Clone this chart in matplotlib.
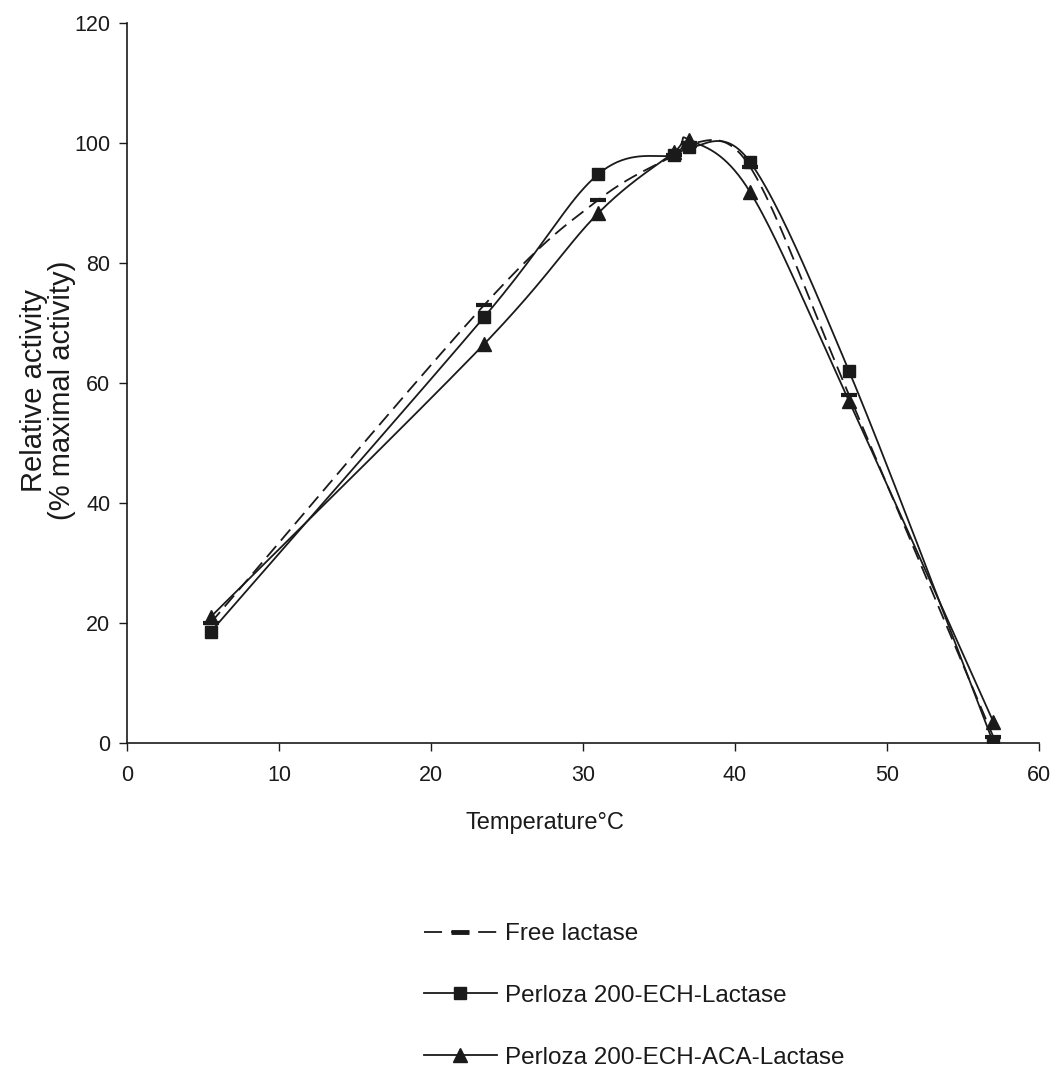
import numpy as np
import matplotlib
matplotlib.use("Agg")
import matplotlib.pyplot as plt
from matplotlib.lines import Line2D

plt.rcParams['font.family'] = ['Liberation Sans', 'DejaVu Sans']

# ---- data ----
temperature = [5.5, 23.5, 31, 36, 37, 41, 47.5, 57]
free_lactase = [20, 73, 90.5, 98, 100, 96, 58, 1]
ech_lactase = [18.5, 71, 94.8, 98, 99.3, 96.8, 62, 0]
aca_lactase = [21, 66.5, 88.3, 98.5, 100.5, 91.8, 57, 3.5]

labels = ["Free lactase", "Perloza 200-ECH-Lactase", "Perloza 200-ECH-ACA-Lactase"]
x_ticks = [0, 10, 20, 30, 40, 50, 60]
y_ticks = [0, 20, 40, 60, 80, 100, 120]


def smooth(xs, ys, n=40):
    """Excel-like smoothed line (Catmull-Rom Bezier through the points)."""
    p = np.column_stack([xs, ys]).astype(float)
    out = []
    m = len(p)
    t = np.linspace(0, 1, n)[:, None]
    for i in range(m - 1):
        p0 = p[i - 1] if i > 0 else p[i]
        p1 = p[i]
        p2 = p[i + 1]
        p3 = p[i + 2] if i + 2 < m else p[i + 1]
        c1 = p1 + (p2 - p0) / 6.0
        c2 = p2 - (p3 - p1) / 6.0
        seg = ((1 - t) ** 3) * p1 + 3 * ((1 - t) ** 2) * t * c1 + 3 * (1 - t) * t ** 2 * c2 + t ** 3 * p2
        out.append(seg if i == 0 else seg[1:])
    out = np.vstack(out)
    return out[:, 0], out[:, 1]


W, H = 1057, 1068
fig = plt.figure(figsize=(W / 100, H / 100), dpi=100)
ax = fig.add_axes([127 / W, 1 - 743 / H, 912 / W, 720 / H])

ink = '#1a1a1a'
lw = 1.3
dash = (0, (8, 4))

# Free lactase: dashed smooth line with short bar markers
sx, sy = smooth(temperature, free_lactase)
ax.plot(sx, sy, color=ink, lw=lw, linestyle=dash)
ax.plot(temperature, free_lactase, linestyle='none', marker='_', markersize=11,
        markeredgewidth=3, color=ink)

# ECH lactase: solid smooth line with squares
sx, sy = smooth(temperature, ech_lactase)
ax.plot(sx, sy, color=ink, lw=lw)
ax.plot(temperature, ech_lactase, linestyle='none', marker='s', markersize=8.5, color=ink)

# ECH-ACA lactase: solid smooth line with triangles
sx, sy = smooth(temperature, aca_lactase)
ax.plot(sx, sy, color=ink, lw=lw)
ax.plot(temperature, aca_lactase, linestyle='none', marker='^', markersize=9.5, color=ink)

ax.set_xlim(0, 60)
ax.set_ylim(0, 120)
ax.set_xticks(x_ticks)
ax.set_yticks(y_ticks)
for s in ['top', 'right']:
    ax.spines[s].set_visible(False)
for s in ['left', 'bottom']:
    ax.spines[s].set_linewidth(1.2)
    ax.spines[s].set_color(ink)
ax.tick_params(axis='both', direction='out', length=6, width=1, color=ink,
               labelsize=15.5, labelcolor=ink)
ax.tick_params(axis='x', pad=10)
ax.tick_params(axis='y', pad=6)

ax.set_xlabel("Temperature°C", fontsize=17, color=ink)
ax.xaxis.set_label_coords((545 - 127) / 912, (743 - 812) / 720)
ax.set_ylabel("Relative activity\n(% maximal activity)", fontsize=21, color=ink,
              linespacing=1.0)
ax.yaxis.set_label_coords((76 - 127) / 912, (743 - 390) / 720)

handles = [
    Line2D([], [], color=ink, lw=lw, linestyle=(0, (10, 5)), marker='_',
           markersize=13, markeredgewidth=3.5),
    Line2D([], [], color=ink, lw=lw, marker='s', markersize=8.5),
    Line2D([], [], color=ink, lw=lw, marker='^', markersize=9.5),
]
fig.legend(handles, labels, loc='center left', bbox_to_anchor=(424 / W, 1 - 996 / H),
           frameon=False, fontsize=17.5, handlelength=3.0, handletextpad=0.35,
           labelspacing=1.64, borderpad=0, borderaxespad=0, labelcolor=ink)

fig.savefig("out.png", dpi=100, facecolor='white')
